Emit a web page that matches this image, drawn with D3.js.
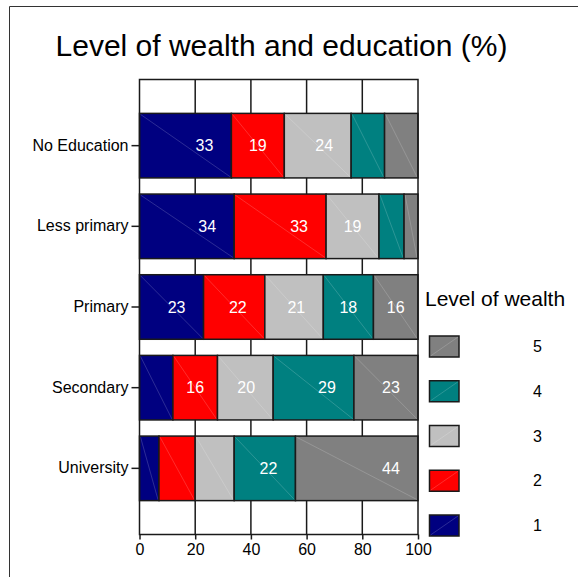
<!DOCTYPE html>
<html>
<head>
<meta charset="utf-8">
<script src="https://cdn.jsdelivr.net/npm/d3@7"></script>
<style>
  html, body { margin: 0; padding: 0; background: #fff; }
  svg { display: block; font-family: "Liberation Sans", Arial, sans-serif; }
</style>
</head>
<body>
<svg id="chart" width="578" height="577"></svg>
<script>
// Education categories (top to bottom)
const categories = ["No Education", "Less primary", "Primary", "Secondary", "University"];
// Wealth levels, poorest to richest
const wealthLevels = ["1", "2", "3", "4", "5"];
// Share (%) of each education group in each wealth level
const level1 = [33, 34, 23, 12, 7];
const level2 = [19, 33, 22, 16, 13];
const level3 = [24, 19, 21, 20, 14];
const level4 = [12, 9, 18, 29, 22];
const level5 = [12, 5, 16, 23, 44];
const xTicks = [0, 20, 40, 60, 80, 100];

const levelValues = [level1, level2, level3, level4, level5];
const colors = ["#000080", "#ff0000", "#c0c0c0", "#008080", "#808080"];

const rows = categories.map((c, i) => {
  const r = { category: c };
  wealthLevels.forEach((w, j) => { r[w] = levelValues[j][i]; });
  return r;
});

const svg = d3.select("#chart");
const plot = { left: 139.5, right: 418, top: 79.5, bottom: 534.5 };

const x = d3.scaleLinear().domain([0, 100]).range([plot.left, plot.right]);
const y = d3.scaleBand().domain(categories).range([plot.top, plot.bottom])
  .paddingInner(0.2).paddingOuter(0.42);
const color = d3.scaleOrdinal().domain(wealthLevels).range(colors);

// outer frame (left and top edges)
svg.append("path")
  .attr("d", "M9.5,577 V6.5 H578")
  .attr("fill", "none").attr("stroke", "#333").attr("stroke-width", 1);

// title
svg.append("text")
  .attr("x", 281.5).attr("y", 56)
  .attr("text-anchor", "middle")
  .attr("font-size", 30).attr("fill", "#000")
  .text("Level of wealth and education (%)");

// plot background and vertical grid
svg.append("rect")
  .attr("x", plot.left).attr("y", plot.top)
  .attr("width", plot.right - plot.left).attr("height", plot.bottom - plot.top)
  .attr("fill", "#fff");

svg.append("g")
  .selectAll("line")
  .data(xTicks.slice(1, -1))
  .join("line")
  .attr("x1", d => x(d)).attr("x2", d => x(d))
  .attr("y1", plot.top).attr("y2", plot.bottom)
  .attr("stroke", "#1a1a1a").attr("stroke-width", 1.5);

// stacked bars
const series = d3.stack().keys(wealthLevels)(rows);

const layers = svg.append("g")
  .selectAll("g")
  .data(series)
  .join("g")
  .attr("fill", d => color(d.key));

const segs = layers.selectAll("g")
  .data(d => d.map(s => ({ key: d.key, x0: s[0], x1: s[1], cat: s.data.category, v: s[1] - s[0] })))
  .join("g");

segs.append("rect")
  .attr("x", d => x(d.x0))
  .attr("y", d => y(d.cat))
  .attr("width", d => x(d.x1) - x(d.x0))
  .attr("height", y.bandwidth())
  .attr("stroke", "#1a1a1a").attr("stroke-width", 1.5);

// fine diagonal sheen across each segment
segs.append("line")
  .attr("x1", d => x(d.x0) + 1).attr("y1", d => y(d.cat) + 1)
  .attr("x2", d => x(d.x1) - 1).attr("y2", d => y(d.cat) + y.bandwidth() - 1)
  .attr("stroke", "#fff").attr("stroke-opacity", 0.25).attr("stroke-width", 0.7);

// value labels on the wider segments
segs.filter(d => d.v >= 15)
  .append("text")
  .attr("x", d => Math.max((x(d.x0) + x(d.x1)) / 2, x(d.x1) - 27))
  .attr("y", d => y(d.cat) + y.bandwidth() / 2)
  .attr("dy", "0.35em")
  .attr("text-anchor", "middle")
  .attr("font-size", 16).attr("fill", "#fff")
  .text(d => d.v);

// plot border
svg.append("rect")
  .attr("x", plot.left).attr("y", plot.top)
  .attr("width", plot.right - plot.left).attr("height", plot.bottom - plot.top)
  .attr("fill", "none").attr("stroke", "#1a1a1a").attr("stroke-width", 1.5);

// x axis
const xAxis = svg.append("g")
  .attr("transform", `translate(0,${plot.bottom})`)
  .call(d3.axisBottom(x).tickValues(xTicks).tickSize(5).tickPadding(4).tickFormat(d3.format("d")));
xAxis.select(".domain").remove();
xAxis.selectAll(".tick line").attr("stroke", "#1a1a1a").attr("stroke-width", 1.5);
xAxis.selectAll(".tick text").attr("font-size", 16).attr("fill", "#000")
  .attr("font-family", "Liberation Sans, Arial, sans-serif");

// y axis
const yAxis = svg.append("g")
  .attr("transform", `translate(${plot.left},0)`)
  .call(d3.axisLeft(y).tickSize(8).tickPadding(3));
yAxis.select(".domain").remove();
yAxis.selectAll(".tick line").attr("stroke", "#1a1a1a").attr("stroke-width", 1.5);
yAxis.selectAll(".tick text").attr("font-size", 16).attr("fill", "#000")
  .attr("font-family", "Liberation Sans, Arial, sans-serif");

// legend
const legend = svg.append("g");
legend.append("text")
  .attr("x", 425).attr("y", 306)
  .attr("font-size", 21).attr("fill", "#000")
  .text("Level of wealth");

const legendY = d3.scalePoint().domain(wealthLevels.slice().reverse()).range([346.5, 525.5]);
const item = legend.selectAll("g.item")
  .data(wealthLevels)
  .join("g").attr("class", "item")
  .attr("transform", d => `translate(0,${legendY(d)})`);

item.append("rect")
  .attr("x", 429.5).attr("y", -10.5)
  .attr("width", 29.5).attr("height", 21)
  .attr("fill", d => color(d))
  .attr("stroke", "#1a1a1a").attr("stroke-width", 1.5);
item.append("line")
  .attr("x1", 430.5).attr("y1", 9.5).attr("x2", 458).attr("y2", -9.5)
  .attr("stroke", "#fff").attr("stroke-opacity", 0.25).attr("stroke-width", 0.7);
item.append("text")
  .attr("x", 537.5).attr("y", 0).attr("dy", "0.35em")
  .attr("text-anchor", "middle")
  .attr("font-size", 16).attr("fill", "#000")
  .text(d => d);
</script>
</body>
</html>
